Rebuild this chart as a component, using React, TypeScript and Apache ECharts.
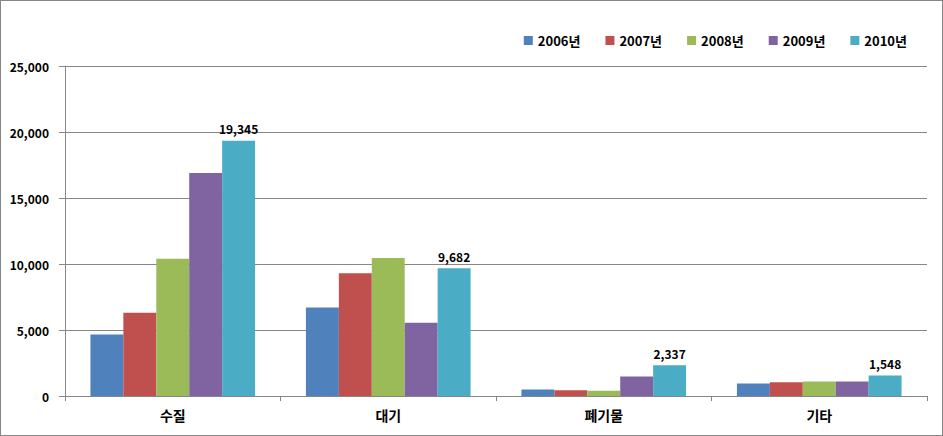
import React, { useEffect, useRef } from "react";
import * as echarts from "echarts";

const categories = ["수질", "대기", "폐기물", "기타"];
const seriesNames = ["2006년", "2007년", "2008년", "2009년", "2010년"];
const v2006 = [4650, 6700, 500, 950];
const v2007 = [6300, 9300, 430, 1050];
const v2008 = [10400, 10450, 400, 1100];
const v2009 = [16900, 5550, 1480, 1100];
const v2010 = [19345, 9682, 2337, 1548];
const colors = ["#4F81BD", "#C0504D", "#9BBB59", "#8064A2", "#4BACC6"];

const FONT = "'Noto Sans CJK KR', 'Noto Sans', sans-serif";

export default function App() {
  const ref = useRef<HTMLDivElement>(null);
  useEffect(() => {
    if (!ref.current) return;
    const chart = echarts.init(ref.current, null, { renderer: "svg" });
    const values = [v2006, v2007, v2008, v2009, v2010];
    chart.setOption({
      animation: false,
      textStyle: { fontFamily: FONT },
      color: colors,
      legend: {
        top: 28,
        right: 30,
        itemWidth: 9,
        itemHeight: 9,
        itemGap: 25,
        icon: "rect",
        textStyle: { fontFamily: FONT, fontWeight: "bold", fontSize: 13, color: "#000" },
        data: seriesNames,
      },
      grid: { left: 64, right: 15, top: 65, bottom: 39, containLabel: false },
      xAxis: {
        type: "category",
        data: categories,
        axisLine: { lineStyle: { color: "#868686" } },
        axisTick: { show: true, length: 5, lineStyle: { color: "#868686" } },
        axisLabel: { fontFamily: FONT, fontWeight: "bold", fontSize: 14, color: "#000", margin: 12 },
      },
      yAxis: {
        type: "value",
        min: 0,
        max: 25000,
        interval: 5000,
        axisLine: { show: true, lineStyle: { color: "#868686" } },
        axisTick: { show: true, length: 6, lineStyle: { color: "#868686" } },
        splitLine: { lineStyle: { color: "#868686" } },
        axisLabel: {
          fontFamily: FONT,
          fontWeight: "bold",
          fontSize: 12,
          color: "#000",
          margin: 16,
          formatter: (v: number) => v.toLocaleString("en-US"),
        },
      },
      series: seriesNames.map((name, i) => ({
        name,
        type: "bar",
        data: values[i],
        barGap: "0%",
        barCategoryGap: "23.6%",
        label: i === 4
          ? {
              show: true,
              position: "top",
              distance: 6,
              fontFamily: FONT,
              fontWeight: "bold",
              fontSize: 12,
              color: "#000",
              formatter: (p: any) => Number(p.value).toLocaleString("en-US"),
            }
          : { show: false },
      })),
    });
    return () => chart.dispose();
  }, []);
  return (
    <div
      style={{
        position: "absolute",
        left: 0,
        top: 0,
        width: 943,
        height: 436,
        boxSizing: "border-box",
        border: "1px solid #868686",
        background: "#fff",
      }}
    >
      <div ref={ref} style={{ width: 941, height: 434 }} />
    </div>
  );
}
